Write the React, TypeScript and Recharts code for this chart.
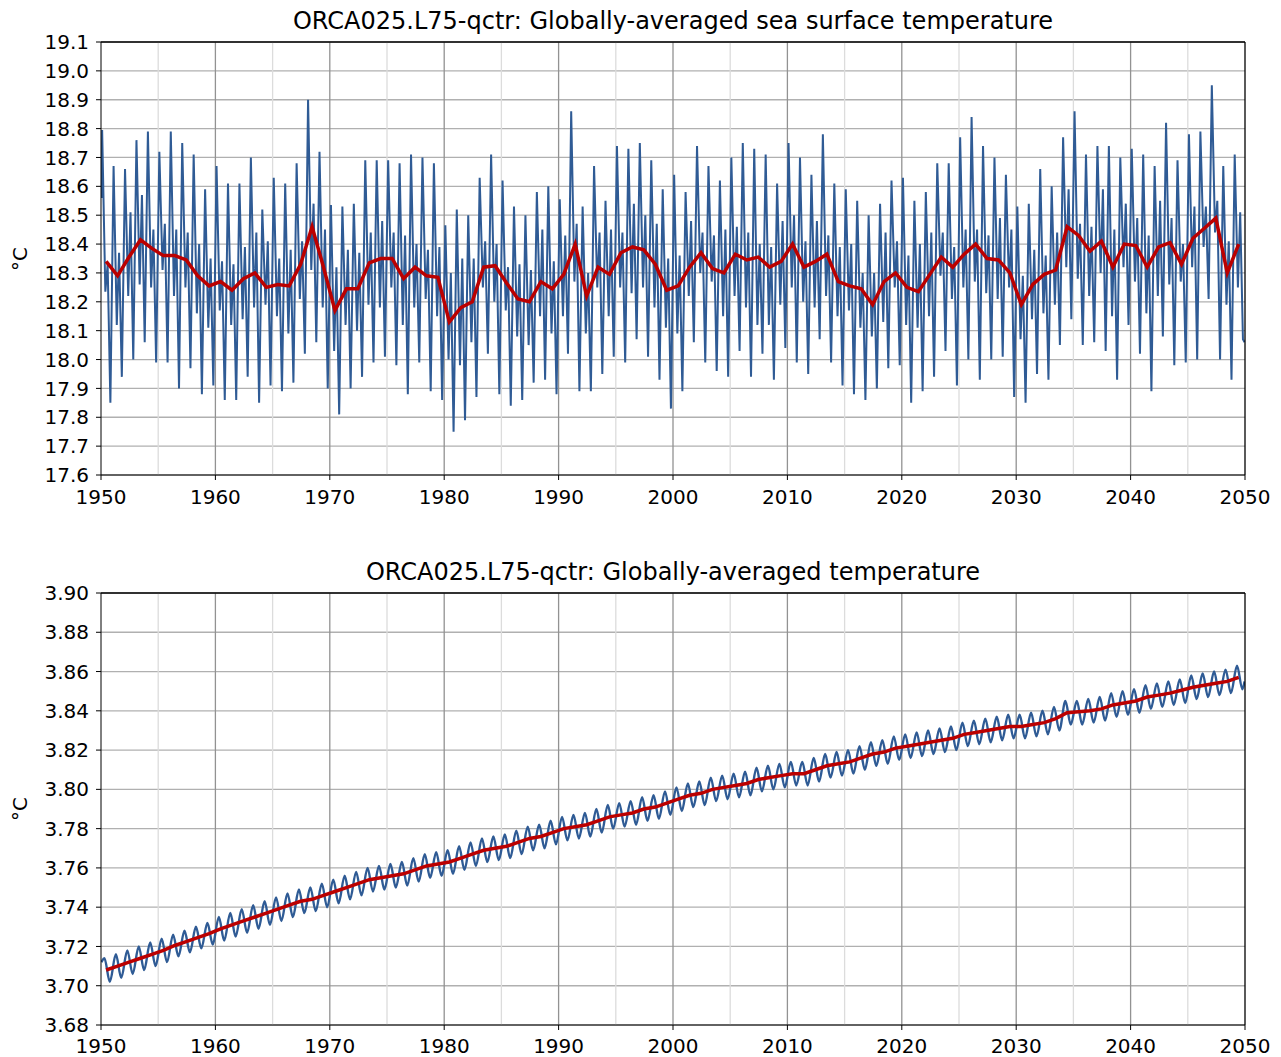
import { CartesianGrid, Line, LineChart, ReferenceLine, XAxis, YAxis } from 'recharts';

// model years shown on both panels
const years = Array.from({ length: 100 }, (_, i) => 1950 + i);
const decadeTicks = [1950, 1960, 1970, 1980, 1990, 2000, 2010, 2020, 2030, 2040, 2050];
const halfDecades = [1955, 1965, 1975, 1985, 1995, 2005, 2015, 2025, 2035, 2045];

const sstTicks = [17.6, 17.7, 17.8, 17.9, 18.0, 18.1, 18.2, 18.3, 18.4, 18.5, 18.6, 18.7, 18.8, 18.9, 19.0, 19.1];
const tempTicks = [3.68, 3.7, 3.72, 3.74, 3.76, 3.78, 3.8, 3.82, 3.84, 3.86, 3.88, 3.9];

// SST monthly series, read as the turning points of each year
const sstStart = 18.56;
const sstEnd = 18.06;
const sstPeak = [
  18.795, 18.67, 18.66, 18.76, 18.79, 18.72, 18.79, 18.75, 18.71, 18.59,
  18.67, 18.61, 18.61, 18.70, 18.52, 18.63, 18.61, 18.68, 18.90, 18.72,
  18.535, 18.53, 18.54, 18.69, 18.69, 18.69, 18.68, 18.71, 18.70, 18.68,
  18.465, 18.52, 18.50, 18.63, 18.71, 18.62, 18.53, 18.50, 18.58, 18.60,
  18.555, 18.86, 18.53, 18.67, 18.55, 18.74, 18.73, 18.75, 18.69, 18.59,
  18.64, 18.58, 18.74, 18.67, 18.62, 18.70, 18.75, 18.73, 18.71, 18.61,
  18.75, 18.70, 18.64, 18.78, 18.61, 18.59, 18.55, 18.50, 18.54, 18.62,
  18.63, 18.55, 18.58, 18.68, 18.68, 18.77, 18.84, 18.74, 18.70, 18.64,
  18.53, 18.54, 18.66, 18.60, 18.77, 18.86, 18.71, 18.74, 18.74, 18.70,
  18.73, 18.71, 18.67, 18.82, 18.69, 18.78, 18.79, 18.95, 18.67, 18.71,
];
const sstTrough1 = [
  18.235, 18.12, 18.22, 18.26, 18.25, 18.31, 18.22, 18.25, 18.16, 18.11,
  18.17, 18.12, 18.14, 18.18, 18.19, 18.15, 18.09, 18.21, 18.31, 18.18,
  18.03, 18.12, 18.10, 18.19, 18.18, 18.25, 18.12, 18.18, 18.21, 18.15,
  18.00, 17.98, 18.06, 18.25, 18.20, 18.17, 18.08, 18.05, 18.15, 18.09,
  18.15, 18.27, 18.09, 18.25, 18.15, 18.25, 18.23, 18.25, 18.18, 18.11,
  18.09, 18.22, 18.30, 18.27, 18.15, 18.22, 18.18, 18.12, 18.12, 18.19,
  18.25, 18.20, 18.18, 18.22, 18.15, 18.17, 18.11, 18.08, 18.13, 18.25,
  18.12, 18.11, 18.15, 18.29, 18.21, 18.25, 18.27, 18.23, 18.21, 18.25,
  18.07, 18.14, 18.16, 18.19, 18.32, 18.28, 18.22, 18.30, 18.15, 18.32,
  18.27, 18.16, 18.22, 18.26, 18.27, 18.32, 18.39, 18.44, 18.19, 18.25,
];
const sstSecond = [
  18.33, 18.37, 18.51, 18.57, 18.45, 18.47, 18.45, 18.44, 18.40, 18.35,
  18.34, 18.33, 18.39, 18.44, 18.41, 18.35, 18.38, 18.41, 18.54, 18.45,
  18.32, 18.38, 18.37, 18.44, 18.48, 18.44, 18.43, 18.40, 18.38, 18.39,
  18.30, 18.35, 18.35, 18.41, 18.40, 18.32, 18.33, 18.31, 18.45, 18.34,
  18.43, 18.47, 18.30, 18.44, 18.45, 18.44, 18.54, 18.50, 18.47, 18.35,
  18.36, 18.48, 18.44, 18.43, 18.45, 18.46, 18.44, 18.40, 18.39, 18.48,
  18.50, 18.41, 18.48, 18.43, 18.39, 18.40, 18.30, 18.30, 18.44, 18.41,
  18.36, 18.40, 18.44, 18.44, 18.39, 18.45, 18.45, 18.43, 18.49, 18.45,
  18.29, 18.38, 18.36, 18.44, 18.59, 18.47, 18.46, 18.59, 18.45, 18.54,
  18.49, 18.43, 18.55, 18.49, 18.40, 18.53, 18.53, 18.55, 18.41, 18.51,
];
const sstTrough2 = [
  17.85, 17.94, 18.00, 18.06, 17.99, 17.99, 17.90, 17.97, 17.88, 17.91,
  17.86, 17.86, 17.94, 17.85, 17.91, 17.89, 17.92, 18.02, 18.06, 17.90,
  17.81, 17.90, 17.94, 17.99, 18.01, 17.98, 17.88, 17.99, 17.89, 17.86,
  17.75, 17.79, 17.87, 18.02, 17.88, 17.84, 17.86, 17.92, 17.93, 17.88,
  18.02, 17.89, 17.89, 17.95, 18.01, 17.99, 18.07, 18.01, 17.93, 17.83,
  17.89, 18.06, 17.99, 17.96, 17.94, 18.03, 17.94, 18.02, 17.93, 18.04,
  17.99, 17.95, 18.07, 17.99, 17.91, 17.88, 17.86, 17.90, 17.97, 17.98,
  17.85, 17.89, 17.94, 18.03, 17.91, 18.00, 17.93, 18.00, 18.01, 17.87,
  17.85, 17.95, 17.93, 18.05, 18.14, 18.05, 18.06, 18.03, 17.93, 18.12,
  18.02, 17.89, 18.08, 17.98, 17.99, 18.00, 18.21, 18.00, 17.93, 18.07,
];
const sstAnnual = [
  18.34, 18.29, 18.355, 18.415, 18.385, 18.36, 18.36, 18.345, 18.29, 18.255,
  18.27, 18.24, 18.28, 18.30, 18.25, 18.26, 18.255, 18.33, 18.46, 18.32,
  18.17, 18.245, 18.245, 18.335, 18.35, 18.35, 18.28, 18.32, 18.29, 18.285,
  18.13, 18.18, 18.20, 18.32, 18.325, 18.265, 18.21, 18.20, 18.27, 18.245,
  18.295, 18.40, 18.22, 18.32, 18.295, 18.37, 18.39, 18.38, 18.33, 18.24,
  18.255, 18.32, 18.37, 18.315, 18.30, 18.365, 18.345, 18.355, 18.32, 18.34,
  18.40, 18.32, 18.34, 18.365, 18.27, 18.255, 18.245, 18.19, 18.27, 18.30,
  18.25, 18.235, 18.295, 18.355, 18.32, 18.365, 18.40, 18.35, 18.345, 18.30,
  18.19, 18.26, 18.295, 18.31, 18.46, 18.43, 18.375, 18.41, 18.32, 18.40,
  18.395, 18.32, 18.39, 18.405, 18.33, 18.42, 18.455, 18.49, 18.30, 18.40,
];

// globally-averaged temperature: yearly high / low of the monthly curve + annual mean
const tempStart = 3.712;
const tempEnd = 3.855;
const tempPeak = [
  3.714, 3.716, 3.718, 3.72, 3.722, 3.724, 3.726, 3.728, 3.73, 3.732,
  3.735, 3.737, 3.739, 3.741, 3.743, 3.745, 3.747, 3.749, 3.75, 3.752,
  3.754, 3.756, 3.758, 3.76, 3.761, 3.762, 3.763, 3.765, 3.767, 3.768,
  3.769, 3.771, 3.773, 3.775, 3.776, 3.777, 3.779, 3.781, 3.782, 3.784,
  3.786, 3.787, 3.788, 3.79, 3.792, 3.793, 3.794, 3.796, 3.797, 3.799,
  3.801, 3.803, 3.804, 3.806, 3.807, 3.808, 3.809, 3.811, 3.812, 3.813,
  3.814, 3.814, 3.816, 3.818, 3.819, 3.82, 3.822, 3.824, 3.825, 3.827,
  3.828, 3.829, 3.83, 3.831, 3.832, 3.834, 3.835, 3.836, 3.837, 3.838,
  3.838, 3.839, 3.84, 3.842, 3.845, 3.845, 3.846, 3.847, 3.849, 3.85,
  3.851, 3.853, 3.854, 3.855, 3.856, 3.858, 3.859, 3.86, 3.861, 3.863,
];
const tempTrough = [
  3.702, 3.704, 3.706, 3.708, 3.71, 3.712, 3.715, 3.717, 3.719, 3.721,
  3.723, 3.725, 3.727, 3.729, 3.731, 3.733, 3.735, 3.737, 3.738, 3.74,
  3.742, 3.744, 3.746, 3.748, 3.749, 3.75, 3.751, 3.753, 3.755, 3.756,
  3.757, 3.759, 3.761, 3.763, 3.764, 3.765, 3.767, 3.769, 3.77, 3.772,
  3.774, 3.775, 3.776, 3.778, 3.78, 3.781, 3.782, 3.784, 3.785, 3.787,
  3.789, 3.791, 3.792, 3.794, 3.795, 3.796, 3.797, 3.799, 3.8, 3.801,
  3.802, 3.802, 3.804, 3.806, 3.807, 3.808, 3.81, 3.812, 3.813, 3.815,
  3.816, 3.817, 3.818, 3.819, 3.82, 3.822, 3.823, 3.824, 3.825, 3.826,
  3.826, 3.827, 3.828, 3.83, 3.833, 3.833, 3.834, 3.835, 3.837, 3.838,
  3.839, 3.841, 3.842, 3.843, 3.844, 3.846, 3.847, 3.848, 3.849, 3.851,
];
const tempAnnual = [
  3.708, 3.71, 3.712, 3.714, 3.716, 3.718, 3.7205, 3.7225, 3.7245, 3.7265,
  3.729, 3.731, 3.733, 3.735, 3.737, 3.739, 3.741, 3.743, 3.744, 3.746,
  3.748, 3.75, 3.752, 3.754, 3.755, 3.756, 3.757, 3.759, 3.761, 3.762,
  3.763, 3.765, 3.767, 3.769, 3.77, 3.771, 3.773, 3.775, 3.776, 3.778,
  3.78, 3.781, 3.782, 3.784, 3.786, 3.787, 3.788, 3.79, 3.791, 3.793,
  3.795, 3.797, 3.798, 3.8, 3.801, 3.802, 3.803, 3.805, 3.806, 3.807,
  3.808, 3.808, 3.81, 3.812, 3.813, 3.814, 3.816, 3.818, 3.819, 3.821,
  3.822, 3.823, 3.824, 3.825, 3.826, 3.828, 3.829, 3.83, 3.831, 3.832,
  3.832, 3.833, 3.834, 3.836, 3.839, 3.8395, 3.84, 3.841, 3.843, 3.844,
  3.845, 3.847, 3.848, 3.849, 3.8505, 3.852, 3.853, 3.854, 3.855, 3.857,
];

// where in the year each turning point falls
const sstPhase = [0.1, 0.38, 0.58, 0.82];
const tempPhase = [0.3, 0.77];

type Pt = { x: number; v: number };

const sstMonthly: Pt[] = [
  { x: 1950.04, v: sstStart },
  ...years.flatMap((y, i) => [
    { x: y + sstPhase[0], v: sstPeak[i] },
    { x: y + sstPhase[1], v: sstTrough1[i] },
    { x: y + sstPhase[2], v: sstSecond[i] },
    { x: y + sstPhase[3], v: sstTrough2[i] },
  ]),
  { x: 2049.96, v: sstEnd },
];
const sstYearly: Pt[] = years.map((y, i) => ({ x: y + 0.45, v: sstAnnual[i] }));

const tempMonthly: Pt[] = [
  { x: 1950.04, v: tempStart },
  ...years.flatMap((y, i) => [
    { x: y + tempPhase[0], v: tempPeak[i] },
    { x: y + tempPhase[1], v: tempTrough[i] },
  ]),
  { x: 2049.96, v: tempEnd },
];
const tempYearly: Pt[] = years.map((y, i) => ({ x: y + 0.45, v: tempAnnual[i] }));

const FONT = '"DejaVu Sans", sans-serif';
const blue = '#2f5b95';
const red = '#bb0000';
const tickStyle = { fontSize: 20, fill: '#000', fontFamily: FONT };

function Panel({
  top,
  height,
  marginTop,
  xAxisHeight,
  tickGap,
  title,
  ticks,
  digits,
  monthly,
  yearly,
  curve,
  blueWidth,
}: {
  top: number;
  height: number;
  marginTop: number;
  xAxisHeight: number;
  tickGap: number;
  title: string;
  ticks: number[];
  digits: number;
  monthly: Pt[];
  yearly: Pt[];
  curve: 'linear' | 'monotone';
  blueWidth: number;
}) {
  const yMin = ticks[0];
  const yMax = ticks[ticks.length - 1];
  const plotH = height - marginTop - xAxisHeight;
  return (
    <div style={{ position: 'absolute', left: 0, top, width: 1281, height }}>
      <div
        style={{
          position: 'absolute',
          left: 101,
          width: 1144,
          top: marginTop - 33,
          fontSize: 24,
          lineHeight: '24px',
          textAlign: 'center',
          fontFamily: FONT,
          color: '#000',
        }}
      >
        {title}
      </div>
      <div
        style={{
          position: 'absolute',
          left: 20,
          top: marginTop + plotH / 2,
          transform: 'translate(-50%, -50%) rotate(-90deg)',
          fontSize: 20,
          fontFamily: FONT,
          whiteSpace: 'nowrap',
        }}
      >
        °C
      </div>
      <LineChart width={1281} height={height} margin={{ top: marginTop, right: 36, bottom: 0, left: 0 }}>
        <CartesianGrid vertical={false} stroke="#b0b0b0" strokeWidth={1.3} />
        {halfDecades.map((y) => (
          <ReferenceLine key={`m${y}`} x={y} stroke="#dcdcdc" strokeWidth={1.3} />
        ))}
        {decadeTicks.slice(1, -1).map((y) => (
          <ReferenceLine key={`d${y}`} x={y} stroke="#929292" strokeWidth={1.3} />
        ))}
        <XAxis
          type="number"
          dataKey="x"
          domain={[1950, 2050]}
          ticks={decadeTicks}
          allowDataOverflow
          height={xAxisHeight}
          tick={tickStyle}
          tickSize={5}
          tickMargin={tickGap}
          stroke="#000"
          tickFormatter={(v: number) => String(v)}
        />
        <YAxis
          type="number"
          dataKey="v"
          domain={[yMin, yMax]}
          ticks={ticks}
          allowDataOverflow
          width={101}
          tick={tickStyle}
          tickSize={5}
          tickMargin={7}
          stroke="#000"
          tickFormatter={(v: number) => v.toFixed(digits)}
        />
        <Line
          data={monthly}
          dataKey="v"
          type={curve}
          stroke={blue}
          strokeWidth={blueWidth}
          dot={false}
          isAnimationActive={false}
        />
        <Line
          data={yearly}
          dataKey="v"
          type="linear"
          stroke={red}
          strokeWidth={3.5}
          dot={false}
          isAnimationActive={false}
        />
        <ReferenceLine y={yMax} stroke="#000" strokeWidth={1.3} />
        <ReferenceLine x={2050} stroke="#000" strokeWidth={1.3} />
      </LineChart>
    </div>
  );
}

export default function App() {
  return (
    <div
      style={{
        position: 'absolute',
        left: 0,
        top: 0,
        width: 1281,
        height: 1057,
        overflow: 'hidden',
        background: '#fff',
      }}
    >
      <Panel
        top={0}
        height={530}
        marginTop={42}
        xAxisHeight={55}
        tickGap={10}
        title="ORCA025.L75-qctr: Globally-averaged sea surface temperature"
        ticks={sstTicks}
        digits={1}
        monthly={sstMonthly}
        yearly={sstYearly}
        curve="linear"
        blueWidth={2}
      />
      <Panel
        top={530}
        height={545}
        marginTop={63}
        xAxisHeight={50}
        tickGap={9}
        title="ORCA025.L75-qctr: Globally-averaged temperature"
        ticks={tempTicks}
        digits={2}
        monthly={tempMonthly}
        yearly={tempYearly}
        curve="monotone"
        blueWidth={2.4}
      />
    </div>
  );
}
